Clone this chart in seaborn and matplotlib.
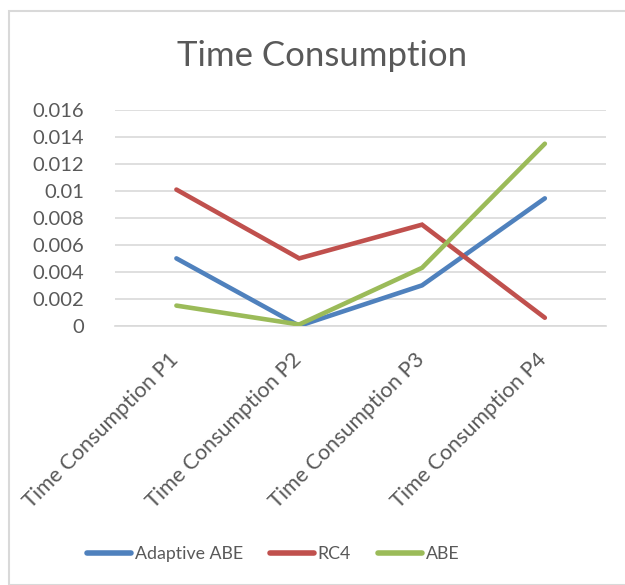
import matplotlib
matplotlib.use("Agg")
import matplotlib.pyplot as plt
import matplotlib.transforms as mtransforms
from matplotlib.lines import Line2D
from matplotlib.patches import Rectangle
import seaborn as sns
import pandas as pd

categories = ["Time Consumption P1", "Time Consumption P2",
              "Time Consumption P3", "Time Consumption P4"]
adaptive_abe = [0.0050, 0.0000, 0.0030, 0.00945]
rc4 = [0.0101, 0.0050, 0.0075, 0.0006]
abe = [0.0015, 0.0001, 0.0043, 0.0135]
series_names = ["Adaptive ABE", "RC4", "ABE"]
colors = {"Adaptive ABE": "#4F81BD", "RC4": "#C0504D", "ABE": "#9BBB59"}

rows = []
for name, vals in zip(series_names, [adaptive_abe, rc4, abe]):
    for i, (cat, v) in enumerate(zip(categories, vals)):
        rows.append({"pos": i, "category": cat, "series": name, "value": v})
df = pd.DataFrame(rows)

sns.set_style("white")
plt.rcParams["font.family"] = ["Lato", "DejaVu Sans"]
text_color = "#595959"

fig = plt.figure(figsize=(6.25, 5.85), dpi=100)
ax = fig.add_axes([0.184, 0.443, 0.786, 0.369])

sns.lineplot(data=df, x="pos", y="value", hue="series", palette=colors,
             hue_order=series_names, linewidth=3.3, legend=False, ax=ax,
             solid_capstyle="round", solid_joinstyle="miter", zorder=3)

ax.set_xlim(-0.5, 3.5)
ax.set_ylim(0, 0.016)
ax.set_yticks([0, 0.002, 0.004, 0.006, 0.008, 0.01, 0.012, 0.014, 0.016])
ax.set_yticklabels(["0", "0.002", "0.004", "0.006", "0.008", "0.01",
                    "0.012", "0.014", "0.016"])
ax.yaxis.grid(True, color="#D9D9D9", linewidth=1.2)
ax.set_axisbelow(True)
for s in ax.spines.values():
    s.set_visible(False)
ax.spines["bottom"].set_visible(True)
ax.spines["bottom"].set_color("#D9D9D9")
ax.spines["bottom"].set_linewidth(1.2)

ax.set_xticks(range(len(categories)))
ax.set_xticklabels(categories, rotation=45, ha="right", va="top")
ax.tick_params(axis="x", length=0, pad=17, labelsize=15.5, labelcolor=text_color)
ax.tick_params(axis="y", length=0, pad=22, labelsize=14.5, labelcolor=text_color)
ax.set_xlabel("")
ax.set_ylabel("")

# nudge the rotated category labels right (after tick_params, which resets transforms)
offset = mtransforms.ScaledTranslation(6 / 100, 0, fig.dpi_scale_trans)
for lbl in ax.get_xticklabels():
    lbl.set_transform(lbl.get_transform() + offset)

fig.text(0.515, 0.905, "Time Consumption", ha="center", va="center",
         fontsize=25, color=text_color)

handles = [Line2D([0], [0], color=colors[n], linewidth=4, solid_capstyle="round")
           for n in series_names]
fig.legend(handles, series_names, loc="center", bbox_to_anchor=(0.437, 0.053),
           ncol=3, frameon=False, fontsize=12.8, labelcolor=text_color,
           handlelength=2.5, handletextpad=0.2, columnspacing=1.5)

fig.patches.append(Rectangle((9 / 625, 0), 1, 1 - 11 / 585, transform=fig.transFigure,
                             fill=False, edgecolor="#D9D9D9", linewidth=1.5))

fig.savefig("out.png", dpi=100)
